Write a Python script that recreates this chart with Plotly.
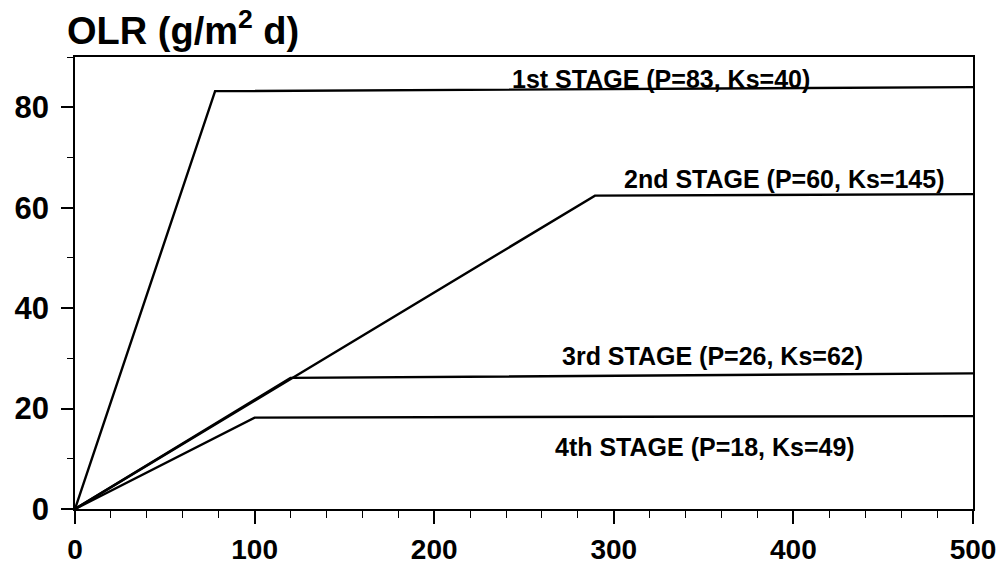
import plotly.graph_objects as go

# Data: piecewise lines (x = loading, y = OLR)
stage1_x = [0, 78, 500]
stage1_y = [0, 83.2, 84.0]
stage2_x = [0, 289.5, 500]
stage2_y = [0, 62.4, 62.7]
stage3_x = [0, 120, 500]
stage3_y = [0, 26.1, 27.0]
stage4_x = [0, 100, 500]
stage4_y = [0, 18.2, 18.5]

labels = ["1st STAGE (P=83, Ks=40)", "2nd STAGE (P=60, Ks=145)",
          "3rd STAGE (P=26, Ks=62)", "4th STAGE (P=18, Ks=49)"]
label_x = [326, 395, 355, 351]
label_y = [85.6, 65.7, 30.4, 12.4]

x_ticks = [0, 100, 200, 300, 400, 500]
y_ticks = [0, 20, 40, 60, 80]

FONT = "Liberation Sans, Arial, Helvetica, sans-serif"

fig = go.Figure()
for xs, ys in [(stage1_x, stage1_y), (stage2_x, stage2_y),
               (stage3_x, stage3_y), (stage4_x, stage4_y)]:
    fig.add_trace(go.Scatter(x=xs, y=ys, mode="lines",
                             line=dict(color="black", width=2.4),
                             showlegend=False, hoverinfo="skip"))

for t, lx, ly in zip(labels, label_x, label_y):
    fig.add_annotation(x=lx, y=ly, text="<b>" + t + "</b>", showarrow=False,
                       xanchor="center", yanchor="middle",
                       font=dict(family=FONT, size=25, color="black"))

fig.update_layout(
    width=1003, height=564,
    paper_bgcolor="white", plot_bgcolor="white",
    margin=dict(l=75, r=30, t=57, b=55),
    title=dict(text="<b>OLR (g/m<sup>2</sup> d)</b>", xref="container", yref="container",
               x=67 / 1003, xanchor="left", y=1 - 31 / 564, yanchor="middle",
               font=dict(family=FONT, size=38, color="black")),
    font=dict(family=FONT, color="black"),
)

fig.update_xaxes(range=[0, 500], tickvals=x_ticks,
                 ticktext=["<b>%d</b>" % v for v in x_ticks],
                 showgrid=False, zeroline=False, automargin=False,
                 showline=True, linecolor="black", linewidth=1.5, mirror=True,
                 ticks="outside", ticklen=13, tickwidth=1.5, tickcolor="black",
                 minor=dict(ticks="outside", dtick=20, tick0=0, ticklen=7,
                            tickwidth=1.2, tickcolor="black", showgrid=False),
                 tickfont=dict(family=FONT, size=28, color="black"),
                 ticklabelstandoff=2)
fig.update_yaxes(range=[0, 90], tickvals=y_ticks,
                 ticktext=["<b>%d</b>" % v for v in y_ticks],
                 showgrid=False, zeroline=False, automargin=False,
                 showline=True, linecolor="black", linewidth=1.5, mirror=True,
                 ticks="outside", ticklen=12, tickwidth=1.5, tickcolor="black",
                 minor=dict(ticks="outside", dtick=10, tick0=0, ticklen=6,
                            tickwidth=1.2, tickcolor="black", showgrid=False),
                 tickfont=dict(family=FONT, size=31, color="black"),
                 ticklabelstandoff=6)

fig.write_html("out.html", config={"displayModeBar": False},
               post_script="document.body.style.margin='0px';document.body.style.overflow='hidden';")
